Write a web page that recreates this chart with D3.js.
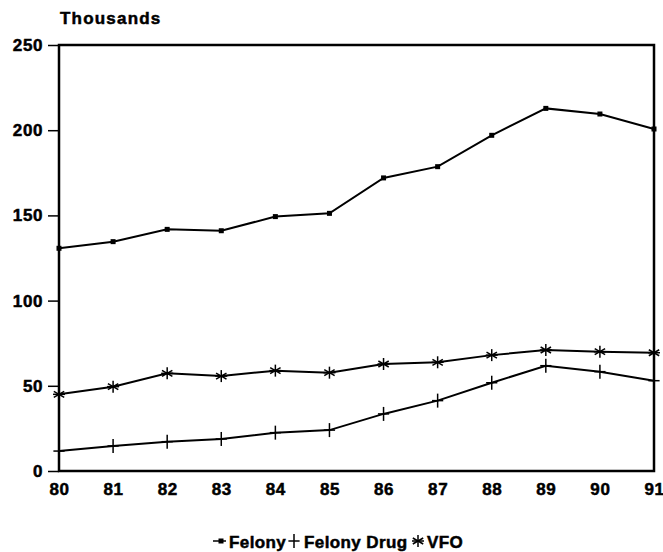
<!DOCTYPE html>
<html>
<head>
<meta charset="utf-8">
<script src="https://cdn.jsdelivr.net/npm/d3@7"></script>
<style>
  body { margin: 0; background: #fff; }
  svg text { font-family: "Liberation Sans", Arial, sans-serif; font-weight: bold; fill: #000; stroke: #000; stroke-width: 0.5px; }
</style>
</head>
<body>
<svg id="chart" width="663" height="552"></svg>
<script>
// data (thousands)
var years = ["80", "81", "82", "83", "84", "85", "86", "87", "88", "89", "90", "91"];
var felony = [130.7, 134.6, 141.8, 141, 149.3, 151.2, 172, 178.6, 197, 212.8, 209.5, 200.7];
var felonyDrug = [11.7, 14.7, 17.2, 18.8, 22.5, 24, 33.5, 41.3, 51.8, 61.8, 58.3, 53];
var vfo = [45, 49.5, 57.3, 55.7, 58.9, 57.7, 62.8, 63.8, 68, 71, 70, 69.4];
var yTicks = [0, 50, 100, 150, 200, 250];

var svg = d3.select("#chart");

// plot box
var boxL = 59, boxR = 654, boxT = 45, boxB = 471;

var x = d3.scalePoint().domain(years).range([boxL, boxR]);
var y = d3.scaleLinear().domain([0, 250]).range([boxB, boxT]);

// frame
svg.append("rect")
  .attr("x", boxL)
  .attr("y", boxT)
  .attr("width", boxR - boxL)
  .attr("height", boxB - boxT)
  .attr("fill", "none")
  .attr("stroke", "black")
  .attr("stroke-width", 2.5);

// y axis
var yAxis = svg.append("g")
  .attr("transform", "translate(" + boxL + ",0)")
  .call(d3.axisLeft(y).tickValues(yTicks).tickSize(11).tickPadding(5));
yAxis.select(".domain").remove();
yAxis.selectAll("line").attr("stroke", "black").attr("stroke-width", 1.5);
yAxis.selectAll("text")
  .attr("font-size", 17)
  .attr("letter-spacing", 0.6)
  .style("font-family", "'Liberation Sans', Arial, sans-serif")
  .style("font-weight", "bold");

// x axis
var xAxis = svg.append("g")
  .attr("transform", "translate(0," + boxB + ")")
  .call(d3.axisBottom(x).tickSize(0).tickPadding(12));
xAxis.select(".domain").remove();
xAxis.selectAll("text")
  .attr("font-size", 17)
  .attr("letter-spacing", 0.6)
  .style("font-family", "'Liberation Sans', Arial, sans-serif")
  .style("font-weight", "bold");

// title of y axis
svg.append("text")
  .attr("x", 60)
  .attr("y", 24)
  .attr("font-size", 17)
  .attr("letter-spacing", 1.2)
  .text("Thousands");

var line = d3.line()
  .x(function(d, i) { return x(years[i]); })
  .y(function(d) { return y(d); });

var series = [
  { name: "Felony", values: felony, marker: "dot" },
  { name: "Felony Drug", values: felonyDrug, marker: "plus" },
  { name: "VFO", values: vfo, marker: "star" }
];

function drawMarker(g, type, cx, cy, s) {
  if (type == "dot") {
    g.append("rect")
      .attr("x", cx - 2.5).attr("y", cy - 2.5)
      .attr("width", 5).attr("height", 5)
      .attr("fill", "black");
  } else if (type == "plus") {
    g.append("line").attr("x1", cx).attr("y1", cy - s).attr("x2", cx).attr("y2", cy + s)
      .attr("stroke", "black").attr("stroke-width", 1.5);
    g.append("line").attr("x1", cx - s * 0.8).attr("y1", cy).attr("x2", cx + s * 0.8).attr("y2", cy)
      .attr("stroke", "black").attr("stroke-width", 1.5);
  } else {
    [0, 60, 120].forEach(function(a) {
      var r = a * Math.PI / 180;
      g.append("line")
        .attr("x1", cx - s * Math.sin(r)).attr("y1", cy - s * Math.cos(r))
        .attr("x2", cx + s * Math.sin(r)).attr("y2", cy + s * Math.cos(r))
        .attr("stroke", "black").attr("stroke-width", 1.5);
    });
    g.append("line").attr("x1", cx - s).attr("y1", cy).attr("x2", cx + s).attr("y2", cy)
      .attr("stroke", "black").attr("stroke-width", 1.5);
  }
}

series.forEach(function(s) {
  svg.append("path")
    .attr("d", line(s.values))
    .attr("fill", "none")
    .attr("stroke", "black")
    .attr("stroke-width", 2);
  var g = svg.append("g");
  s.values.forEach(function(v, i) {
    drawMarker(g, s.marker, x(years[i]), y(v), s.marker == "plus" ? 7 : 6);
  });
});

// legend
var leg = svg.append("g");
leg.append("line").attr("x1", 213).attr("y1", 541).attr("x2", 226).attr("y2", 541)
  .attr("stroke", "black").attr("stroke-width", 1.5);
drawMarker(leg, "dot", 221, 541, 0);
leg.append("text").attr("x", 229).attr("y", 548).attr("font-size", 17).attr("letter-spacing", 0.4).text("Felony");
drawMarker(leg, "plus", 294, 541, 7);
leg.append("text").attr("x", 304).attr("y", 548).attr("font-size", 17).attr("letter-spacing", 0.4).text("Felony Drug");
drawMarker(leg, "star", 418, 541, 6);
leg.append("text").attr("x", 427).attr("y", 548).attr("font-size", 17).attr("letter-spacing", 0.4).text("VFO");
</script>
</body>
</html>
